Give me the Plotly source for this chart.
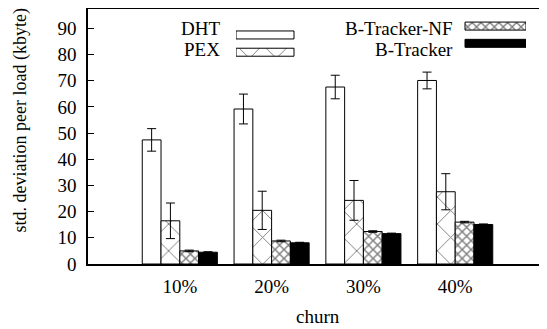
import plotly.graph_objects as go

# ---- data ----
categories = ["10%", "20%", "30%", "40%"]
series_names = ["DHT", "PEX", "B-Tracker-NF", "B-Tracker"]
dht = [47.4, 59.2, 67.6, 70.1]
dht_err = [4.3, 5.7, 4.5, 3.2]
pex = [16.5, 20.5, 24.3, 27.6]
pex_err = [6.8, 7.3, 7.6, 6.9]
btnf = [5.0, 8.8, 12.4, 16.0]
btnf_err = [0.3, 0.3, 0.3, 0.3]
bt = [4.5, 8.1, 11.6, 15.1]
bt_err = [0.2, 0.2, 0.2, 0.2]
y_ticks = [0, 10, 20, 30, 40, 50, 60, 70, 80, 90]

FONT = "Liberation Serif, Times New Roman, Times, serif"
FS = 19
OFF = 8  # default page body margin
W, H = 547 - OFF, 329 - OFF
ML, MR, MT, MB = 88 - OFF, 0, 9 - OFF, 329 - 264
PW, PH = W - ML - MR, H - MT - MB

values = [dht, pex, btnf, bt]
errors = [dht_err, pex_err, btnf_err, bt_err]
styles = [
    dict(color="white", pattern=None),
    dict(color="white", pattern=dict(shape="x", size=19, solidity=0.1, fgcolor="black", bgcolor="white", fillmode="overlay")),
    dict(color="white", pattern=dict(shape="x", size=6.3, solidity=0.4, fgcolor="black", bgcolor="white", fillmode="overlay")),
    dict(color="black", pattern=None),
]

xpos = list(range(len(categories)))
fig = go.Figure()
for name, v, e, st in zip(series_names, values, errors, styles):
    marker = dict(color=st["color"], line=dict(color="black", width=1))
    if st["pattern"]:
        marker["pattern"] = st["pattern"]
    fig.add_trace(go.Bar(
        x=xpos, y=v, name=name, marker=marker,
        error_y=dict(type="data", array=e, visible=True, color="black", thickness=1, width=4.5),
        showlegend=False,
    ))

# ---- helpers: page pixel -> paper coords ----
def px_x(p):
    return (p - OFF - ML) / PW

def px_y(p):
    return (H - MB - (p - OFF)) / PH

# ---- custom gnuplot-style legend (text then sample box) ----
leg_x0, leg_x1 = 236, 526
leg_y_top, leg_y_bot = 18, 60
rows = [28.3, 50.0, 28.3, 50.0]
starts = [0, 0, 229, 229]
lengths = [58, 58, 61, 61]
text_right = [221.7, 221.7, 455.0, 455.0]
for i, (name, st) in enumerate(zip(series_names, styles)):
    marker = dict(color=st["color"], line=dict(color="black", width=1))
    if st["pattern"]:
        marker["pattern"] = st["pattern"]
    fig.add_trace(go.Bar(
        y=[leg_y_bot - rows[i]], x=[lengths[i]], base=[starts[i]], orientation="h",
        width=[8], marker=marker, xaxis="x2", yaxis="y2",
        showlegend=False, hoverinfo="skip",
    ))
    fig.add_annotation(
        x=px_x(text_right[i]), y=px_y(rows[i]), xref="paper", yref="paper",
        text=name, showarrow=False, xanchor="right", yanchor="middle",
        font=dict(family=FONT, size=FS, color="black"),
    )

fig.add_annotation(
    x=px_x(20), y=px_y(120.5), xref="paper", yref="paper",
    text="std. deviation peer load (kbyte)", textangle=-90, showarrow=False,
    xanchor="center", yanchor="middle", font=dict(family=FONT, size=18, color="black"),
)
fig.add_annotation(
    x=px_x(318), y=px_y(316.5), xref="paper", yref="paper",
    text="churn", showarrow=False,
    xanchor="center", yanchor="middle", font=dict(family=FONT, size=FS, color="black"),
)

fig.update_layout(
    width=W, height=H,
    margin=dict(l=ML, r=MR, t=MT, b=MB, autoexpand=False, pad=0),
    paper_bgcolor="white", plot_bgcolor="white",
    barmode="group", bargap=0.182, bargroupgap=0,
    font=dict(family=FONT, size=FS, color="black"),
    xaxis=dict(
        range=[-1, 4], tickvals=xpos, ticktext=categories, ticks="",
        showline=True, linecolor="black", linewidth=1.5, mirror=True,
        showgrid=False, zeroline=False, ticklabelstandoff=4,
        tickfont=dict(family=FONT, size=FS),
    ),
    yaxis=dict(
        range=[0, 97.4], tickvals=y_ticks, ticks="inside", ticklen=6, tickwidth=1,
        tickcolor="black", showline=True, linecolor="black", linewidth=1.5,
        mirror="ticks", showgrid=False, zeroline=False,
        ticklabelstandoff=6, tickfont=dict(family=FONT, size=FS),
    ),
    xaxis2=dict(domain=[px_x(leg_x0), px_x(leg_x1)], range=[0, leg_x1 - leg_x0],
                visible=False, anchor="y2"),
    yaxis2=dict(domain=[px_y(leg_y_bot), px_y(leg_y_top)], range=[0, leg_y_bot - leg_y_top],
                visible=False, anchor="x2"),
)

fig.write_html("out.html")
